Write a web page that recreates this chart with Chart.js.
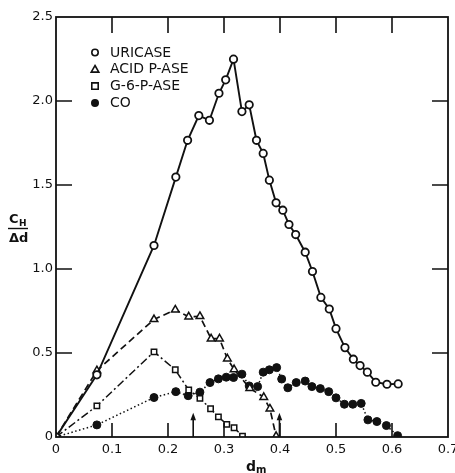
<!DOCTYPE html>
<html><head><meta charset="utf-8">
<script src="https://cdn.jsdelivr.net/npm/chart.js@4/dist/chart.umd.min.js"></script>
<style>html,body{margin:0;padding:0;background:#fff}canvas{display:block}</style>
</head><body>
<canvas id="c" width="455" height="473"></canvas>
<script>
// ---- data ----
const seriesNames = ['URICASE', 'ACID P-ASE', 'G-6-P-ASE', 'CO'];

const uricaseX = [0, 0.073, 0.175, 0.214, 0.235, 0.255, 0.274, 0.291, 0.303, 0.317, 0.332, 0.345, 0.358, 0.370, 0.381, 0.393, 0.405, 0.416, 0.428, 0.445, 0.458, 0.473, 0.488, 0.500, 0.516, 0.531, 0.543, 0.556, 0.571, 0.591, 0.611];
const uricaseY = [0, 0.37, 1.14, 1.547, 1.766, 1.913, 1.885, 2.046, 2.126, 2.249, 1.937, 1.977, 1.766, 1.688, 1.529, 1.394, 1.35, 1.265, 1.205, 1.10, 0.985, 0.831, 0.762, 0.645, 0.532, 0.463, 0.425, 0.386, 0.326, 0.314, 0.316];

const acidX = [0, 0.073, 0.175, 0.213, 0.237, 0.257, 0.277, 0.292, 0.306, 0.318, 0.346, 0.371, 0.382, 0.393];
const acidY = [0, 0.395, 0.70, 0.757, 0.716, 0.718, 0.585, 0.585, 0.466, 0.402, 0.29, 0.237, 0.168, 0.005];

const g6pX = [0, 0.073, 0.175, 0.213, 0.237, 0.257, 0.276, 0.290, 0.305, 0.318, 0.333];
const g6pY = [0, 0.185, 0.507, 0.40, 0.28, 0.23, 0.168, 0.12, 0.075, 0.055, 0.005];

const coX = [0, 0.073, 0.175, 0.214, 0.236, 0.257, 0.275, 0.290, 0.304, 0.317, 0.332, 0.345, 0.360, 0.370, 0.381, 0.394, 0.403, 0.414, 0.429, 0.445, 0.457, 0.472, 0.487, 0.500, 0.515, 0.530, 0.545, 0.557, 0.573, 0.590, 0.610];
const coY = [0, 0.072, 0.235, 0.27, 0.246, 0.267, 0.324, 0.346, 0.356, 0.354, 0.374, 0.304, 0.30, 0.386, 0.40, 0.413, 0.345, 0.293, 0.324, 0.333, 0.30, 0.288, 0.27, 0.233, 0.195, 0.195, 0.2, 0.102, 0.092, 0.068, 0.008];

const xTickMarks = [0.1, 0.2, 0.3, 0.4, 0.5, 0.6];
const yTickMarks = [0.5, 1.0, 1.5, 2.0];
const arrowX = [0.245, 0.399];
const arrowTopY = 0.145;

// ---- build chart ----
const pts = (xs, ys) => xs.map((x, i) => ({x: x, y: ys[i]}));
const INK = '#111';
const FONT = "'DejaVu Sans', 'Liberation Sans', sans-serif";

const datasets = [
  {label: seriesNames[0], data: pts(uricaseX, uricaseY), pointStyle: 'circle', pointRadius: 3.7,
   backgroundColor: '#fff', borderColor: INK, borderWidth: 1.9, pointBorderWidth: 1.8, borderDash: []},
  {label: seriesNames[1], data: pts(acidX, acidY), pointStyle: 'triangle', pointRadius: 4.4,
   backgroundColor: '#fff', borderColor: INK, borderWidth: 1.7, pointBorderWidth: 1.5, borderDash: [7, 4]},
  {label: seriesNames[2], data: pts(g6pX, g6pY), pointStyle: 'rect', pointRadius: 3.8,
   backgroundColor: '#fff', borderColor: INK, borderWidth: 1.5, pointBorderWidth: 1.5, borderDash: [8, 3, 2, 3]},
  {label: seriesNames[3], data: pts(coX, coY), pointStyle: 'circle', pointRadius: 4,
   backgroundColor: INK, borderColor: INK, borderWidth: 1.5, pointBorderWidth: 1, borderDash: [1.5, 2.5]}
];
datasets.forEach(d => { d.showLine = true; d.tension = 0; d.pointBackgroundColor = d.backgroundColor; d.pointBorderColor = INK; });

const decor = {
  id: 'decor',
  afterDatasetsDraw(chart) {
    const ctx = chart.ctx, a = chart.chartArea;
    const xs = chart.scales.x, ys = chart.scales.y;
    ctx.save();
    ctx.strokeStyle = INK; ctx.fillStyle = INK; ctx.lineWidth = 1.8; ctx.setLineDash([]);
    ctx.strokeRect(a.left, a.top, a.right - a.left, a.bottom - a.top);
    ctx.lineWidth = 1.6;
    ctx.beginPath();
    xTickMarks.forEach(v => {
      const px = xs.getPixelForValue(v);
      ctx.moveTo(px, a.bottom); ctx.lineTo(px, a.bottom - 14);
      ctx.moveTo(px, a.top); ctx.lineTo(px, a.top + 16);
    });
    yTickMarks.forEach(v => {
      const py = ys.getPixelForValue(v);
      ctx.moveTo(a.left, py); ctx.lineTo(a.left + 16, py);
      ctx.moveTo(a.right, py); ctx.lineTo(a.right - 16, py);
    });
    ctx.stroke();
    // arrows
    arrowX.forEach(v => {
      const px = xs.getPixelForValue(v), y0 = ys.getPixelForValue(0), y1 = ys.getPixelForValue(arrowTopY);
      ctx.beginPath(); ctx.lineWidth = 1.6; ctx.moveTo(px, y0); ctx.lineTo(px, y1 + 4); ctx.stroke();
      ctx.beginPath(); ctx.moveTo(px, y1); ctx.lineTo(px - 2.8, y1 + 7.5); ctx.lineTo(px + 2.8, y1 + 7.5); ctx.closePath(); ctx.fill();
    });
    // legend
    const lx = 95, ly0 = 52.5, dy = 16.8;
    ctx.font = '14px ' + FONT; ctx.textBaseline = 'middle'; ctx.textAlign = 'left';
    datasets.forEach((d, i) => {
      const y = ly0 + i * dy;
      ctx.lineWidth = 1.6; ctx.fillStyle = d.backgroundColor; ctx.strokeStyle = INK;
      ctx.beginPath();
      if (d.pointStyle === 'circle') { ctx.arc(lx, y, 3.2, 0, Math.PI * 2); }
      else if (d.pointStyle === 'triangle') { ctx.moveTo(lx, y - 3.8); ctx.lineTo(lx + 3.8, y + 2.8); ctx.lineTo(lx - 3.8, y + 2.8); ctx.closePath(); }
      else { ctx.rect(lx - 3.2, y - 3.2, 6.4, 6.4); }
      ctx.fill(); ctx.stroke();
      ctx.fillStyle = INK;
      ctx.fillText(d.label, 110, y + 0.5);
    });
    // axis titles
    ctx.textAlign = 'left'; ctx.textBaseline = 'alphabetic';
    ctx.font = 'bold 14px ' + FONT; ctx.fillText('d', 246, 471);
    ctx.font = 'bold 10px ' + FONT; ctx.fillText('m', 256, 473);
    ctx.font = 'bold 13px ' + FONT; ctx.fillText('C', 9, 223);
    ctx.font = 'bold 9px ' + FONT; ctx.fillText('H', 19, 226);
    ctx.lineWidth = 1.4; ctx.beginPath(); ctx.moveTo(8, 228.5); ctx.lineTo(28, 228.5); ctx.stroke();
    ctx.font = 'bold 13px ' + FONT; ctx.fillText('\u0394d', 9, 242);
    ctx.restore();
  }
};

Chart.defaults.font.family = FONT;
Chart.defaults.color = INK;

new Chart(document.getElementById('c'), {
  type: 'scatter',
  data: {datasets: datasets},
  options: {
    responsive: false, devicePixelRatio: 1, animation: false,
    layout: {padding: {top: 17, right: 7, left: 0, bottom: 0}},
    plugins: {legend: {display: false}, tooltip: {enabled: false}},
    scales: {
      x: {type: 'linear', min: 0, max: 0.7,
          grid: {display: false, drawTicks: false}, border: {display: false},
          ticks: {stepSize: 0.1, padding: 5, maxRotation: 0, autoSkip: false, font: {size: 13}, color: INK,
                  callback: v => v === 0 ? '0' : v.toFixed(1)},
          afterFit: s => { s.height = 36; s.paddingLeft = 0; s.paddingRight = 0; }},
      y: {type: 'linear', min: 0, max: 2.5,
          grid: {display: false, drawTicks: false}, border: {display: false},
          ticks: {stepSize: 0.5, padding: 3, font: {size: 13}, color: INK,
                  callback: v => v === 0 ? '0' : v.toFixed(1)},
          afterFit: s => { s.width = 56; s.paddingTop = 0; s.paddingBottom = 0; }}
    }
  },
  plugins: [decor]
});
</script>
</body></html>
